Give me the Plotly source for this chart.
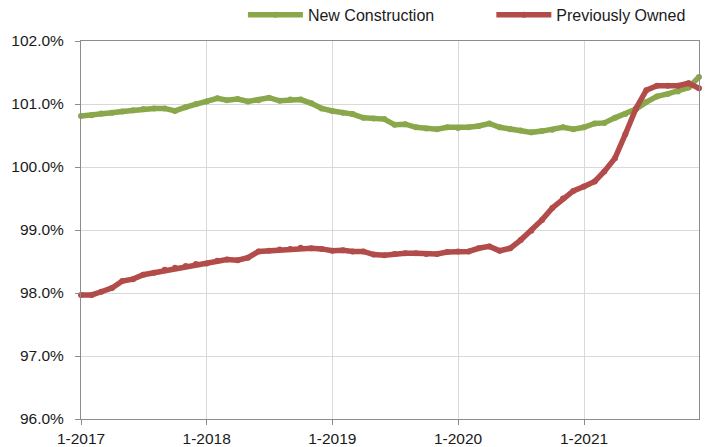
import pandas as pd
import plotly.graph_objects as go

months = pd.date_range("2017-01-01", "2021-12-01", freq="MS").strftime("%Y-%m-%d").tolist()

new_construction = [
    100.81, 100.82, 100.85, 100.86, 100.88, 100.90, 100.92, 100.93, 100.93, 100.89,
    100.95, 101.00, 101.04, 101.09, 101.06, 101.08, 101.04, 101.06, 101.10, 101.05,
    101.07, 101.07, 101.01, 100.93, 100.89, 100.86, 100.84, 100.78, 100.77, 100.76,
    100.67, 100.68, 100.63, 100.61, 100.60, 100.63, 100.62, 100.63, 100.65, 100.69,
    100.63, 100.60, 100.58, 100.55, 100.57, 100.59, 100.63, 100.60, 100.63, 100.69,
    100.70, 100.78, 100.84, 100.92, 101.03, 101.12, 101.16, 101.20, 101.26, 101.43,
]

previously_owned = [
    97.97, 97.97, 98.02, 98.08, 98.19, 98.22, 98.29, 98.32, 98.37, 98.40,
    98.43, 98.46, 98.47, 98.51, 98.53, 98.52, 98.56, 98.66, 98.67, 98.69,
    98.70, 98.72, 98.71, 98.70, 98.67, 98.68, 98.66, 98.66, 98.61, 98.60,
    98.62, 98.63, 98.63, 98.62, 98.62, 98.65, 98.66, 98.66, 98.71, 98.74,
    98.67, 98.71, 98.84, 98.99, 99.16, 99.35, 99.50, 99.62, 99.69, 99.77,
    99.93, 100.14, 100.52, 100.93, 101.22, 101.29, 101.29, 101.29, 101.33, 101.25,
]

series = [
    ("New Construction", new_construction, "#8aa84b", "legend"),
    ("Previously Owned", previously_owned, "#b24c4a", "legend2"),
]

_FONT = "Liberation Sans, Arial, sans-serif"

fig = go.Figure()
for name, vals, color, leg in series:
    fig.add_trace(go.Scatter(
        x=months, y=vals, name=name, mode="lines+markers",
        line=dict(color=color, width=5.5),
        marker=dict(color=color, size=6),
        cliponaxis=False, legend=leg,
    ))

axis_common = dict(
    showline=True, linecolor="#8c8c8c", linewidth=1, mirror=True,
    showgrid=True, gridcolor="#d9d9d9", gridwidth=1,
    ticks="outside", ticklen=5, tickcolor="#8c8c8c",
    zeroline=False, automargin=False,
    tickfont=dict(family=_FONT, size=15.5, color="#1a1a1a"),
)

legend_common = dict(
    orientation="h", xanchor="left", y=1.069, yanchor="middle",
    font=dict(family=_FONT, size=16, color="#1a1a1a"),
    bgcolor="rgba(0,0,0,0)", itemwidth=55,
)

fig.update_layout(
    width=707, height=447,
    margin=dict(l=81, r=8, t=41, b=28, autoexpand=False),
    paper_bgcolor="white", plot_bgcolor="white",
    showlegend=True,
    legend=dict(**legend_common, x=0.262),
    legend2=dict(**legend_common, x=0.664),
    xaxis=dict(
        **axis_common,
        type="date", range=[months[0], months[-1]],
        dtick="M12", tick0=months[0], tickformat="%-m-%Y",
    ),
    yaxis=dict(
        **axis_common,
        range=[96, 102], dtick=1, tickformat=".1f", ticksuffix="%",
        ticklabelstandoff=8,
    ),
)

# page body has a default 8px margin; drop it so the figure sits at the corner
fig.write_html(
    "out.html",
    config={"displayModeBar": False},
    post_script="document.body.style.margin='0';",
)
